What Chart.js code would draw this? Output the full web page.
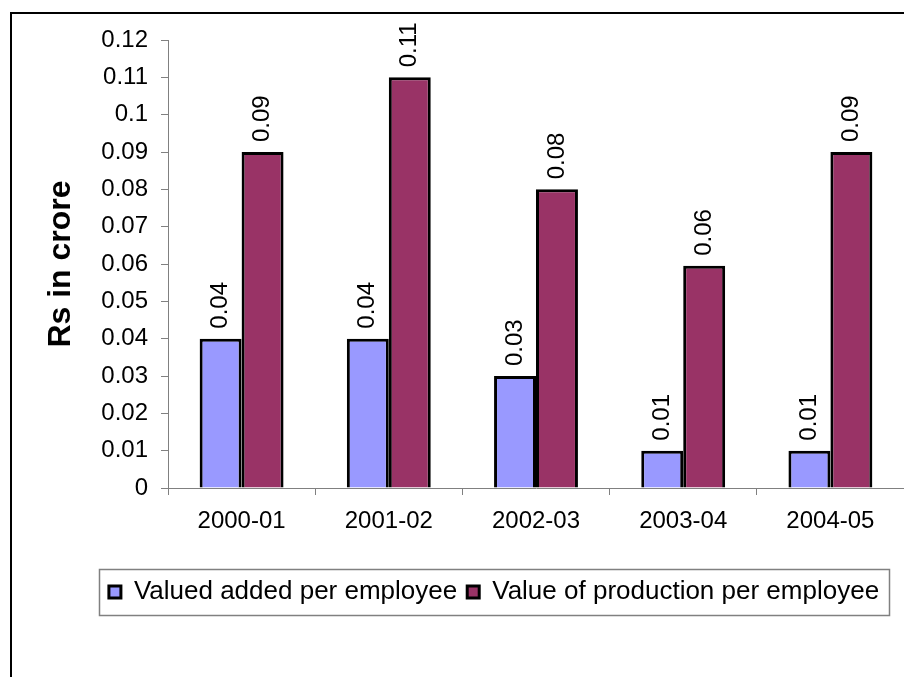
<!DOCTYPE html>
<html>
<head>
<meta charset="utf-8">
<script src="https://cdn.jsdelivr.net/npm/chart.js@4"></script>
<style>
    body { margin: 0; background: #ffffff; }
    #chart { display: block; }
</style>
</head>
<body>
<canvas id="chart" width="904" height="677"></canvas>
<script>
const years = ["2000-01", "2001-02", "2002-03", "2003-04", "2004-05"];
const valueAdded = [0.04, 0.04, 0.03, 0.01, 0.01];
const valueProduction = [0.09, 0.11, 0.08, 0.0595, 0.09];
const yMax = 0.12;
const yStep = 0.01;

const FONT = "'Liberation Sans', Arial, sans-serif";

// rotated value labels above every bar
const barLabels = {
    id: "barLabels",
    afterDatasetsDraw(chart) {
        const ctx = chart.ctx;
        ctx.save();
        ctx.fillStyle = "#000000";
        ctx.font = "24px " + FONT;
        ctx.textAlign = "left";
        ctx.textBaseline = "middle";
        chart.data.datasets.forEach((ds, di) => {
            chart.getDatasetMeta(di).data.forEach((bar, i) => {
                ctx.save();
                ctx.translate(bar.x, bar.y - 10);
                ctx.rotate(-Math.PI / 2);
                ctx.fillText(ds.data[i].toFixed(2), 0, 0);
                ctx.restore();
            });
        });
        ctx.restore();
    }
};

// outer frame + box round the legend
const frame = {
    id: "frame",
    afterLayout(chart) {
        // legend sits a bit right of centre in the original
        const lg = chart.legend;
        lg.left = 89;
        lg.right = 899;
        lg.width = 810;
    },
    beforeDraw(chart) {
        const ctx = chart.ctx;
        ctx.save();
        ctx.strokeStyle = "#000000";
        ctx.lineWidth = 2;
        ctx.beginPath();
        ctx.moveTo(11, chart.height);
        ctx.lineTo(11, 13);
        ctx.lineTo(chart.width, 13);
        ctx.stroke();
        ctx.restore();
    },
    afterDraw(chart) {
        const lg = chart.legend;
        const ctx = chart.ctx;
        ctx.save();
        ctx.strokeStyle = "#808080";
        ctx.lineWidth = 1.5;
        ctx.strokeRect(lg.left + 10.5, lg.top + 0.5, lg.width - 20, lg.height);
        ctx.restore();
    }
};

new Chart(document.getElementById("chart"), {
    type: "bar",
    data: {
        labels: years,
        datasets: [
            {
                label: "Valued added per employee",
                data: valueAdded,
                backgroundColor: "#9999ff",
                borderColor: "#000000",
                borderWidth: 3
            },
            {
                label: "Value of production per employee",
                data: valueProduction,
                backgroundColor: "#993366",
                borderColor: "#000000",
                borderWidth: 3
            }
        ]
    },
    options: {
        responsive: false,
        animation: false,
        devicePixelRatio: 1,
        layout: { padding: { top: 40, left: 0, right: 0, bottom: 62 } },
        datasets: {
            bar: { categoryPercentage: 0.57, barPercentage: 1.0 }
        },
        plugins: {
            legend: {
                position: "bottom",
                labels: {
                    color: "#000000",
                    font: { family: FONT, size: 26 },
                    boxWidth: 12,
                    boxHeight: 12,
                    padding: 10
                }
            },
            tooltip: { enabled: false }
        },
        scales: {
            x: {
                grid: {
                    drawOnChartArea: false,
                    drawTicks: true,
                    tickLength: 7,
                    color: "#808080"
                },
                border: { color: "#808080", width: 1 },
                ticks: {
                    color: "#000000",
                    font: { family: FONT, size: 24 },
                    padding: 12,
                    maxRotation: 0
                },
                afterFit(scale) {
                    scale.height = 81;
                }
            },
            y: {
                min: 0,
                max: yMax,
                grid: {
                    drawOnChartArea: false,
                    drawTicks: true,
                    tickLength: 7,
                    color: "#808080"
                },
                border: { color: "#808080", width: 1 },
                ticks: {
                    stepSize: yStep,
                    color: "#000000",
                    font: { family: FONT, size: 24 },
                    padding: 13,
                    callback: v => String(Number(v.toFixed(2)))
                },
                title: {
                    display: true,
                    text: "Rs in crore",
                    color: "#000000",
                    font: { family: FONT, size: 32, weight: "bold" },
                    padding: { top: 42, bottom: 0 }
                },
                afterFit(scale) {
                    scale.width = 168;
                }
            }
        }
    },
    plugins: [barLabels, frame]
});
</script>
</body>
</html>
